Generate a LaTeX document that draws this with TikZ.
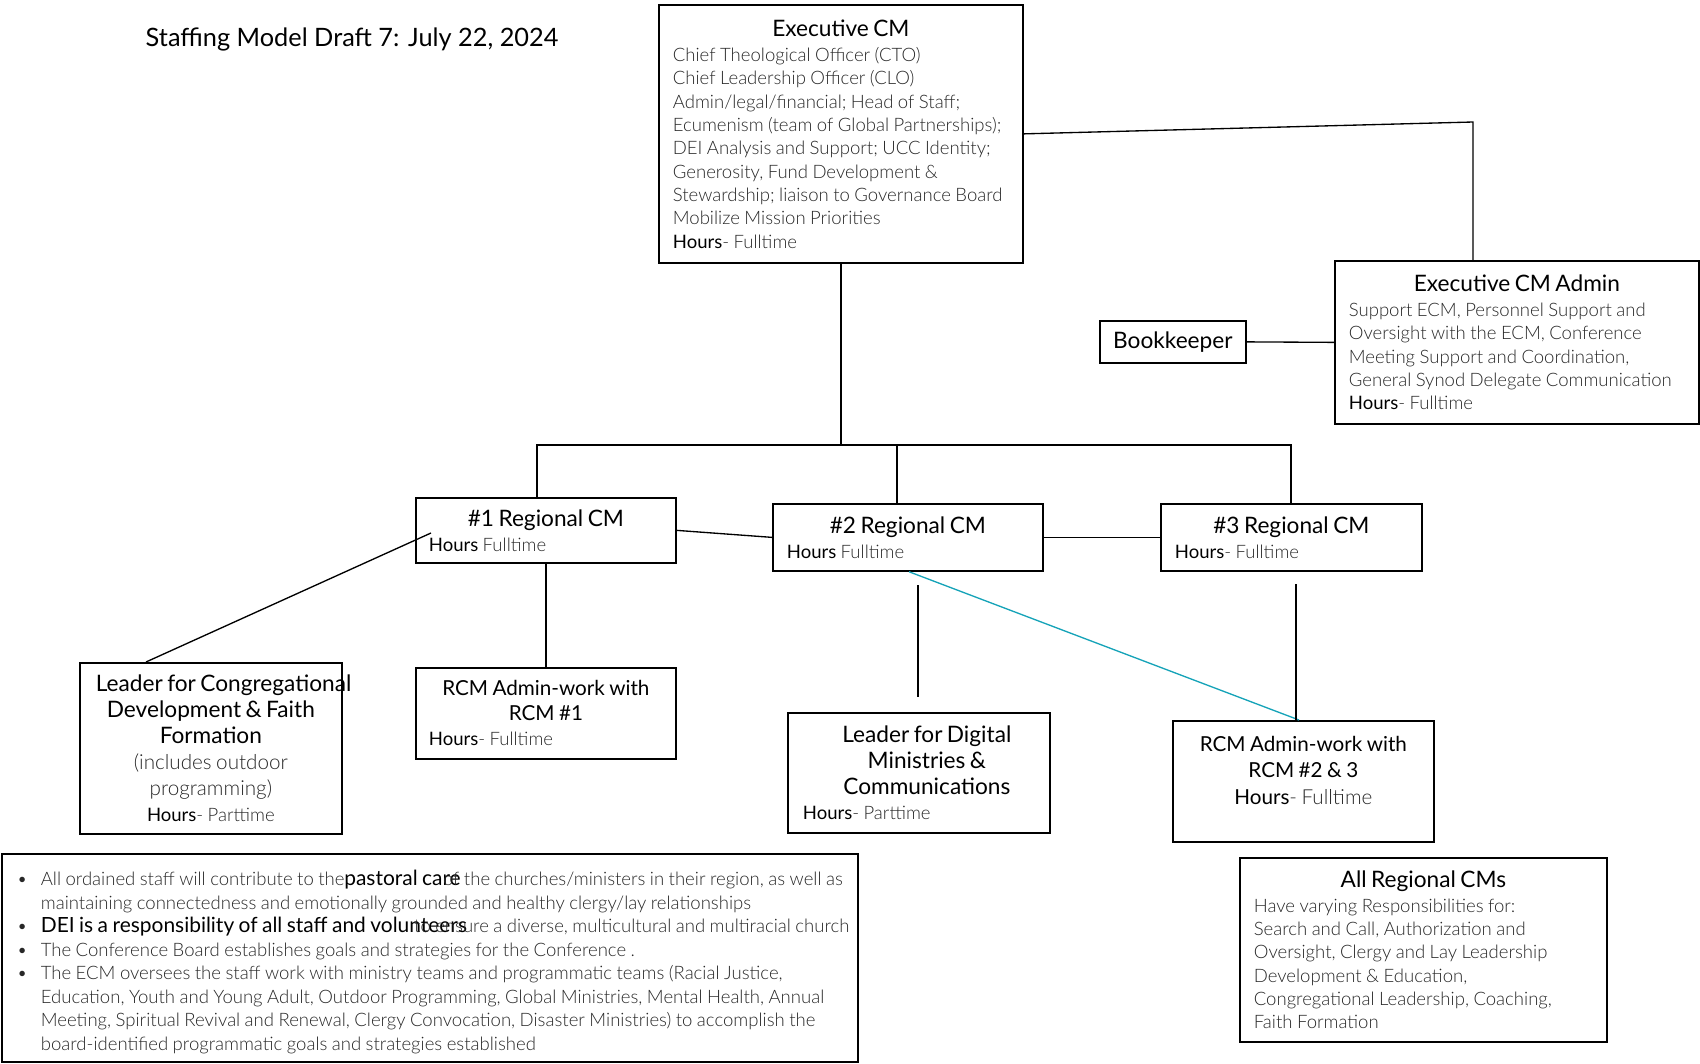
\documentclass[tikz,border=0pt]{standalone}
\usepackage{fontspec}
\setmainfont{Lato}
\newfontfamily\lightfont{Lato Light}
\usetikzlibrary{positioning}

\definecolor{bodygray}{RGB}{40,40,40}
\definecolor{linkteal}{RGB}{22,163,184}

\newcommand{\bodysize}{\fontsize{13.9}{17.5}\selectfont}
\newcommand{\hdrsize}{\fontsize{17}{19.5}\selectfont}
\newcommand{\lighttext}{\lightfont\color{bodygray}}
\newcommand{\hours}[1]{{\normalfont\color{black}Hours}{\lighttext{}#1}}
\newcommand{\marked}[1]{{\normalfont\fontsize{15.7}{17.6}\selectfont\color{black}#1}}
\newcommand{\notebullet}{\par\noindent\hangindent=18pt\hangafter=1\makebox[18pt][l]{\textbullet}}

\tikzset{
  card/.style={draw, line width=1.3pt, anchor=north west, inner ysep=0pt},
  link/.style={line width=1pt},
}

\begin{document}
\begin{tikzpicture}[x=0.75pt, y=-0.75pt]
  \useasboundingbox (0,0) rectangle (1700,1064);

  % Titel
  \node[anchor=west, font=\fontsize{19}{22}\selectfont] (title) at (141,39) {Staffing Model Draft 7: July 22, 2024};

  % Kaarten bovenaan
  \node[card, minimum width=273pt, minimum height=193.5pt, inner xsep=10.5pt, text width=252pt] (execcm) at (658,4) {%
    {\centering\hdrsize Executive CM\par}\vspace{1.5pt}
    {\raggedright\bodysize\lighttext Chief Theological Officer (CTO)\\
     Chief Leadership Officer (CLO)\\
     Admin/legal/financial; Head of Staff;\\
     Ecumenism (team of Global Partnerships);\\
     DEI Analysis and Support; UCC Identity;\\
     Generosity, Fund Development \&\\
     Stewardship; liaison to Governance Board\\
     Mobilize Mission Priorities\\
     \hours{- Fulltime}\par}};
  \node[card, minimum width=273pt, minimum height=122.25pt, inner xsep=10.5pt, text width=252pt] (admin) at (1334,260) {%
    {\centering\hdrsize Executive CM Admin\par}\vspace{1.5pt}
    {\raggedright\bodysize\lighttext Support ECM, Personnel Support and\\
     Oversight with the ECM, Conference\\
     Meeting Support and Coordination,\\
     General Synod Delegate Communication\\
     \hours{- Fulltime}\par}};
  \node[card, minimum width=109.5pt, minimum height=31.5pt, font=\hdrsize] (bookkeeper) at (1099,320) {Bookkeeper};

  % Regionale CM's
  \node[card, minimum width=195pt, minimum height=48.75pt, inner xsep=9.75pt, text width=175.5pt] (reg1) at (415,497) {%
    {\centering\hdrsize \#1 Regional CM\par}
    {\fontsize{13.9}{18.75}\selectfont\hours{ Fulltime}\par}};
  \node[card, minimum width=202.5pt, minimum height=50.25pt, inner xsep=10.5pt, text width=181.5pt] (reg2) at (772,503) {%
    {\centering\hdrsize \#2 Regional CM\par}
    {\fontsize{13.9}{18.75}\selectfont\hours{ Fulltime}\par}};
  \node[card, minimum width=195.75pt, minimum height=50.25pt, inner xsep=10.5pt, text width=174.75pt] (reg3) at (1160,503) {%
    {\centering\hdrsize \#3 Regional CM\par}
    {\fontsize{13.9}{18.75}\selectfont\hours{- Fulltime}\par}};

  % Medewerkers onder de regio's
  \node[card, minimum width=196.5pt, minimum height=128.25pt, inner xsep=12pt, text width=172.5pt] (leadcong) at (79,662) {%
    {\centering\hdrsize \mbox{Leader for Congregational}\\
     Development \& Faith\\
     Formation\\
     {\fontsize{15.5}{19.5}\selectfont\lighttext (includes outdoor\\ programming)}\\
     {\fontsize{13.9}{19.5}\selectfont\hours{- Parttime}}\par}};
  \node[card, minimum width=195pt, minimum height=68.25pt, inner xsep=9.75pt, text width=175.5pt] (rcmadm1) at (415,667) {%
    {\centering\fontsize{15.5}{18.75}\selectfont RCM Admin-work with\\ RCM \#1\par}
    {\fontsize{13.9}{18.75}\selectfont\hours{- Fulltime}\par}};
  \node[card, minimum width=196.5pt, minimum height=90pt, inner xsep=11.25pt, text width=174pt] (digital) at (787,712) {%
    {\centering\hdrsize\hspace*{12pt}Leader for Digital\\ \hspace*{12pt}Ministries \&\\ \hspace*{12pt}Communications\par}
    {\fontsize{13.9}{18.75}\selectfont\hours{- Parttime}\par}};
  \node[card, minimum width=195.75pt, minimum height=90.75pt, inner xsep=10.5pt, text width=174.75pt] (rcmadm23) at (1172,720) {%
    {\centering\fontsize{15.5}{19.9}\selectfont RCM Admin-work with\\ RCM \#2 \& 3\\ \hours{- Fulltime}\\[-3pt]\mbox{}\par}};
  \node[card, minimum width=275.25pt, minimum height=138pt, inner xsep=10.5pt, text width=254.25pt] (allreg) at (1239,857) {%
    {\centering\hdrsize All Regional CMs\par}\vspace{1pt}
    {\raggedright\bodysize\lighttext Have varying Responsibilities for:\\
     Search and Call, Authorization and\\
     Oversight, Clergy and Lay Leadership\\
     Development \& Education,\\
     Congregational Leadership, Coaching,\\
     Faith Formation\par}};

  % Notities
  \node[card, minimum width=642pt, minimum height=156pt, inner xsep=11.25pt, text width=619.5pt] (notes) at (1,853) {%
    {\raggedright\fontsize{13.9}{17.6}\selectfont\lighttext
     \notebullet All ordained staff will contribute to the\rlap{\marked{pastoral care}}\hspace{74pt}of the churches/ministers in their region, as well as\newline
      maintaining connectedness and emotionally grounded and healthy clergy/lay relationships
     \notebullet \rlap{\marked{DEI is a responsibility of all staff and volunteers}}\hspace*{280pt}\rlap{to ensure a diverse, multicultural and multiracial church}
     \notebullet The Conference Board establishes goals and strategies for the Conference .
     \notebullet The ECM oversees the staff work with ministry teams and programmatic teams (Racial Justice,\newline
      Education, Youth and Young Adult, Outdoor Programming, Global Ministries, Mental Health, Annual\newline
      Meeting, Spiritual Revival and Renewal, Clergy Convocation, Disaster Ministries) to accomplish the\newline
      board-identified programmatic goals and strategies established\par}};

  % Verbindingen
  \coordinate (execturn) at (1473,122);
  \coordinate (busleft) at (537,445);
  \coordinate (busmid) at (897,445);
  \coordinate (busright) at (1291,445);
  \coordinate (congstart) at (431,533);
  \coordinate (congend) at (146,662);
  \coordinate (digitop) at (918,585);
  \coordinate (digibottom) at (918,697);
  \coordinate (tealstart) at (909,570);
  \coordinate (tealend) at (1299,720);
  \coordinate (reg3drop) at (1296,584);

  \draw[link] (execcm.east) -- (execturn) -- (admin.north -| execturn);
  \draw[link] (bookkeeper.east) -- (admin.west);
  \draw[link] (execcm.south) -- (execcm.south |- busleft);
  \draw[link] (reg1.north -| busleft) -- (busleft) -- (busright) -- (reg3.north -| busright);
  \draw[link] (busmid) -- (reg2.north -| busmid);
  \draw[link] (reg1.east) -- (reg2.west);
  \draw[link] (reg2.east) -- (reg3.west);
  \draw[link] (congstart) -- (leadcong.north -| congend);
  \draw[link] (reg1.south) -- (rcmadm1.north);
  \draw[link] (digitop) -- (digibottom);
  \draw[link, linkteal] (reg2.south -| tealstart) -- (rcmadm23.north -| tealend);
  \draw[link] (reg3drop) -- (rcmadm23.north -| reg3drop);
\end{tikzpicture}
\end{document}
